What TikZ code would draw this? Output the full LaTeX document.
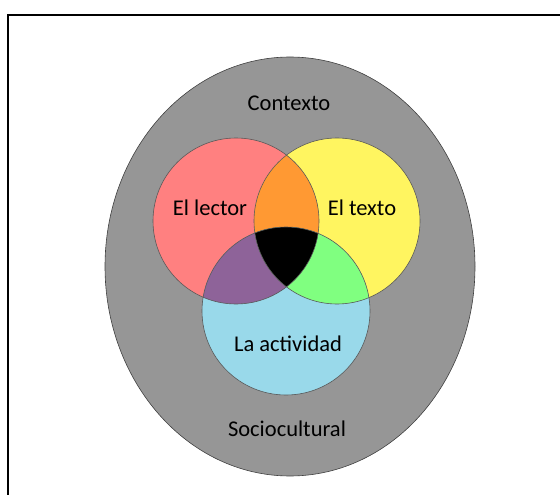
\documentclass[tikz,border=0pt]{standalone}
\usepackage{fontspec}
\setmainfont{Carlito}
\definecolor{contexto}{RGB}{150,150,150}
\definecolor{lector}{RGB}{255,128,128}
\definecolor{texto}{RGB}{255,245,96}
\definecolor{actividad}{RGB}{153,217,234}
\definecolor{lectortexto}{RGB}{255,153,51}
\definecolor{lectoractiv}{RGB}{142,99,153}
\definecolor{textoactiv}{RGB}{128,255,128}
\tikzset{
  borde/.style={draw=black!65, line width=0.6pt},
  etiqueta/.style={font=\fontsize{22.5}{27}\selectfont, text=black}
}

\begin{document}
\begin{tikzpicture}[x=1pt,y=-1pt]
\useasboundingbox (0,0) rectangle (560,495);
\draw [line width=1.6pt] (8,495) -- (8,15) -- (560,15);

\coordinate (ctx) at (290,266.5);
\coordinate (lec) at (236,221);
\coordinate (tex) at (337,221);
\coordinate (act) at (286,311);

% contexto
\fill [contexto] (ctx) ellipse [x radius=185, y radius=209.5];
\draw [borde, draw=black!75] (ctx) ellipse [x radius=185, y radius=209.5];

% los tres circulos
\fill [lector] (lec) circle (83);
\fill [texto] (tex) circle (83);
\fill [actividad] (act) circle (84);

% cortes de dos
\begin{scope}
\clip (lec) circle (83);
\fill [lectortexto] (tex) circle (83);
\fill [lectoractiv] (act) circle (84);
\end{scope}
\begin{scope}
\clip (tex) circle (83);
\fill [textoactiv] (act) circle (84);
\end{scope}
% corte de tres
\begin{scope}
\clip (lec) circle (83);
\clip (tex) circle (83);
\fill [black] (act) circle (84);
\end{scope}

\draw [borde] (lec) circle (83);
\draw [borde] (tex) circle (83);
\draw [borde] (act) circle (84);

\node [etiqueta] (contexto) at (289,103) {Contexto};
\node [etiqueta] (ellector) at (210,208) {El lector};
\node [etiqueta] (eltexto) at (362,208) {El texto};
\node [etiqueta] (laactividad) at (288,344) {La actividad};
\node [etiqueta] (sociocultural) at (287,429) {Sociocultural};

\end{tikzpicture}
\end{document}
